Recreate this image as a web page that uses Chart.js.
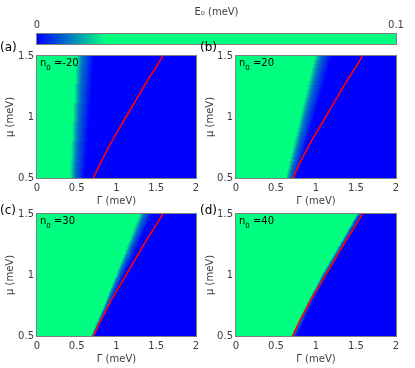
<!DOCTYPE html>
<html>
<head>
<meta charset="utf-8">
<script src="https://cdn.jsdelivr.net/npm/chart.js@4.4.0/dist/chart.umd.min.js"></script>
<style>
  body { margin: 0; background: #fff; }
  #wrap { position: relative; width: 415px; height: 368px; overflow: hidden; }
  canvas { position: absolute; }
</style>
</head>
<body>
<div id="wrap">
  <canvas id="cbar" width="415" height="46" style="left:0px;top:0px"></canvas>
  <canvas id="pa" width="200" height="170" style="left:0px;top:40px"></canvas>
  <canvas id="pb" width="200" height="170" style="left:200px;top:40px"></canvas>
  <canvas id="pc" width="200" height="168" style="left:0px;top:200px"></canvas>
  <canvas id="pd" width="200" height="168" style="left:200px;top:200px"></canvas>
</div>
<script>
// colour map: E0 value -> colour
const cmapValues = [0, 0.019, 0.1]
const cmapColors = [[0, 0, 255], [0, 255, 128], [0, 255, 128]]
const cbarTicks = [0, 0.1]

const gammaTicks = [0, 0.5, 1, 1.5, 2]
const muTicks = [0.5, 1, 1.5]

// rows of mu where the green edge / blue edge were read
const muRows = [0.5, 0.75, 1.0, 1.25, 1.5]
const greenA = [0.41, 0.43, 0.45, 0.47, 0.49]
const blueA  = [0.60, 0.63, 0.66, 0.69, 0.72]
const greenB = [0.62, 0.71, 0.80, 0.89, 0.98]
const blueB  = [0.76, 0.87, 0.98, 1.09, 1.20]
const greenC = [0.68, 0.84, 0.99, 1.14, 1.29]
const blueC  = [0.73, 0.92, 1.10, 1.28, 1.45]
const greenD = [0.69, 0.87, 1.07, 1.29, 1.51]
const blueD  = [0.76, 0.94, 1.14, 1.37, 1.58]

// red curve
const redMu    = [0.5, 0.6, 0.7, 0.8, 0.9, 1.0, 1.1, 1.2, 1.3, 1.4, 1.5]
const redGamma = [0.71, 0.78, 0.86, 0.94, 1.03, 1.12, 1.21, 1.30, 1.39, 1.49, 1.58]

const panelNames = ['(a)', '(b)', '(c)', '(d)']
const n0Values = ['-20', '20', '30', '40']

const font = 'DejaVu Sans'
const grey = '#404040'

function lerp(xs, ys, v) {
    if (v <= xs[0]) return ys[0]
    for (let i = 1; i < xs.length; i++) {
        if (v <= xs[i]) {
            const t = (v - xs[i - 1]) / (xs[i] - xs[i - 1])
            return ys[i - 1] + t * (ys[i] - ys[i - 1])
        }
    }
    return ys[ys.length - 1]
}

function colorAt(v) {
    const c = [0, 1, 2].map(k => Math.round(lerp(cmapValues, cmapColors.map(col => col[k]), v)))
    return `rgb(${c[0]},${c[1]},${c[2]})`
}

const heatmap = {
    id: 'heatmap',
    beforeDatasetsDraw(chart, args, opts) {
        const { ctx, chartArea: a, scales: { x, y } } = chart
        const bandTop = cmapValues[1]
        const left = Math.round(a.left), right = Math.round(a.right)
        ctx.save()
        for (let py = Math.round(a.top); py < Math.round(a.bottom); py++) {
            const mu = y.getValueForPixel(py + 0.5)
            const x0 = Math.round(x.getPixelForValue(lerp(muRows, opts.green, mu)))
            const x1 = Math.round(x.getPixelForValue(lerp(muRows, opts.blue, mu)))
            ctx.fillStyle = colorAt(cmapValues[2])
            ctx.fillRect(left, py, x0 - left, 1)
            const grad = ctx.createLinearGradient(x0, 0, x1, 0)
            grad.addColorStop(0, colorAt(bandTop))
            grad.addColorStop(0.35, colorAt(bandTop * 0.45))
            grad.addColorStop(1, colorAt(0))
            ctx.fillStyle = grad
            ctx.fillRect(x0, py, x1 - x0, 1)
            ctx.fillStyle = colorAt(0)
            ctx.fillRect(x1, py, right - x1, 1)
        }
        ctx.restore()
    }
}

const frame = {
    id: 'frame',
    afterDatasetsDraw(chart) {
        const { ctx, chartArea: a } = chart
        ctx.save()
        ctx.strokeStyle = '#808080'
        ctx.lineWidth = 1
        ctx.strokeRect(Math.round(a.left) - 0.5, Math.round(a.top) - 0.5,
            Math.round(a.right - a.left) + 1, Math.round(a.bottom - a.top) + 1)
        ctx.restore()
    }
}

const labels = {
    id: 'labels',
    afterDraw(chart, args, opts) {
        const { ctx, chartArea: a } = chart
        ctx.save()
        ctx.fillStyle = '#000'
        ctx.textBaseline = 'middle'
        ctx.font = `12px "${font}"`
        ctx.fillText(opts.name, 0, opts.nameY)
        ctx.textBaseline = 'alphabetic'
        let tx = a.left + 3
        const ty = a.top + 10
        ctx.font = `10px "${font}"`
        ctx.fillText('n', tx, ty)
        tx += ctx.measureText('n').width
        ctx.font = `7px "${font}"`
        ctx.fillText('0', tx, ty + 4)
        tx += ctx.measureText('0').width
        ctx.font = `10px "${font}"`
        ctx.fillText(' =' + opts.n0, tx, ty)
        ctx.restore()
    }
}

function noEdgePadding(s) {
    s.paddingLeft = 0
    s.paddingRight = 0
    s.paddingTop = 0
    s.paddingBottom = 0
}

function makePanel(id, idx, green, blue, padTop, axisW, nameY) {
    return new Chart(document.getElementById(id), {
        type: 'line',
        data: {
            datasets: [{
                data: redMu.map((m, i) => ({ x: redGamma[i], y: m })),
                borderColor: '#ff0000',
                borderWidth: 1.6,
                pointRadius: 0,
                cubicInterpolationMode: 'monotone',
                fill: false,
            }]
        },
        options: {
            responsive: false,
            animation: false,
            layout: { padding: { top: padTop, right: 4, left: 0, bottom: 0 } },
            plugins: {
                legend: false,
                tooltip: { enabled: false },
                heatmap: { green: green, blue: blue },
                labels: { name: panelNames[idx], n0: n0Values[idx], nameY: nameY },
            },
            scales: {
                x: {
                    type: 'linear',
                    min: 0,
                    max: 2,
                    grid: { display: false, drawTicks: false },
                    border: { display: false },
                    afterBuildTicks: s => { s.ticks = gammaTicks.map(v => ({ value: v })) },
                    afterFit: s => { s.height = 32; noEdgePadding(s) },
                    ticks: { color: grey, font: { family: font, size: 10 }, padding: 4, maxRotation: 0, callback: v => String(v) },
                    title: { display: true, text: 'Γ (meV)', color: grey, font: { family: font, size: 10 }, padding: { top: 0, bottom: 3 } },
                },
                y: {
                    type: 'linear',
                    min: 0.5,
                    max: 1.5,
                    grid: { display: false, drawTicks: false },
                    border: { display: false },
                    afterBuildTicks: s => { s.ticks = muTicks.map(v => ({ value: v })) },
                    afterFit: s => { s.width = axisW; noEdgePadding(s) },
                    ticks: { color: grey, font: { family: font, size: 10 }, padding: 3, callback: v => String(v) },
                    title: { display: true, text: 'μ (meV)', color: grey, font: { family: font, size: 10 }, padding: { top: 4, bottom: 0 } },
                }
            }
        },
        plugins: [heatmap, frame, labels]
    })
}

makePanel('pa', 0, greenA, blueA, 16, 37, 8)
makePanel('pb', 1, greenB, blueB, 16, 36, 8)
makePanel('pc', 2, greenC, blueC, 14, 37, 11)
makePanel('pd', 3, greenD, blueD, 14, 36, 11)

const colorbar = {
    id: 'colorbar',
    beforeDatasetsDraw(chart) {
        const { ctx, chartArea: a, scales: { x } } = chart
        const grad = ctx.createLinearGradient(a.left, 0, a.right, 0)
        for (const v of cmapValues) {
            grad.addColorStop((x.getPixelForValue(v) - a.left) / (a.right - a.left), colorAt(v))
        }
        ctx.save()
        ctx.fillStyle = grad
        ctx.fillRect(a.left, a.top, a.right - a.left, a.bottom - a.top)
        ctx.restore()
    }
}

new Chart(document.getElementById('cbar'), {
    type: 'scatter',
    data: { datasets: [{ data: [] }] },
    options: {
        responsive: false,
        animation: false,
        layout: { padding: { left: 37, right: 19, top: 0, bottom: 2 } },
        plugins: { legend: false, tooltip: { enabled: false } },
        scales: {
            x: {
                position: 'top',
                min: cbarTicks[0],
                max: cbarTicks[1],
                grid: { display: false, drawTicks: false },
                border: { display: false },
                afterBuildTicks: s => { s.ticks = cbarTicks.map(v => ({ value: v })) },
                afterFit: s => { s.height = 34; noEdgePadding(s) },
                ticks: { color: grey, font: { family: font, size: 10 }, padding: 3, maxRotation: 0, callback: v => String(v) },
                title: { display: true, text: 'E₀ (meV)', color: grey, font: { family: font, size: 10 }, padding: { top: 6, bottom: 0 } },
            },
            y: { display: false, min: 0, max: 1 }
        }
    },
    plugins: [colorbar, frame]
})
</script>
</body>
</html>
